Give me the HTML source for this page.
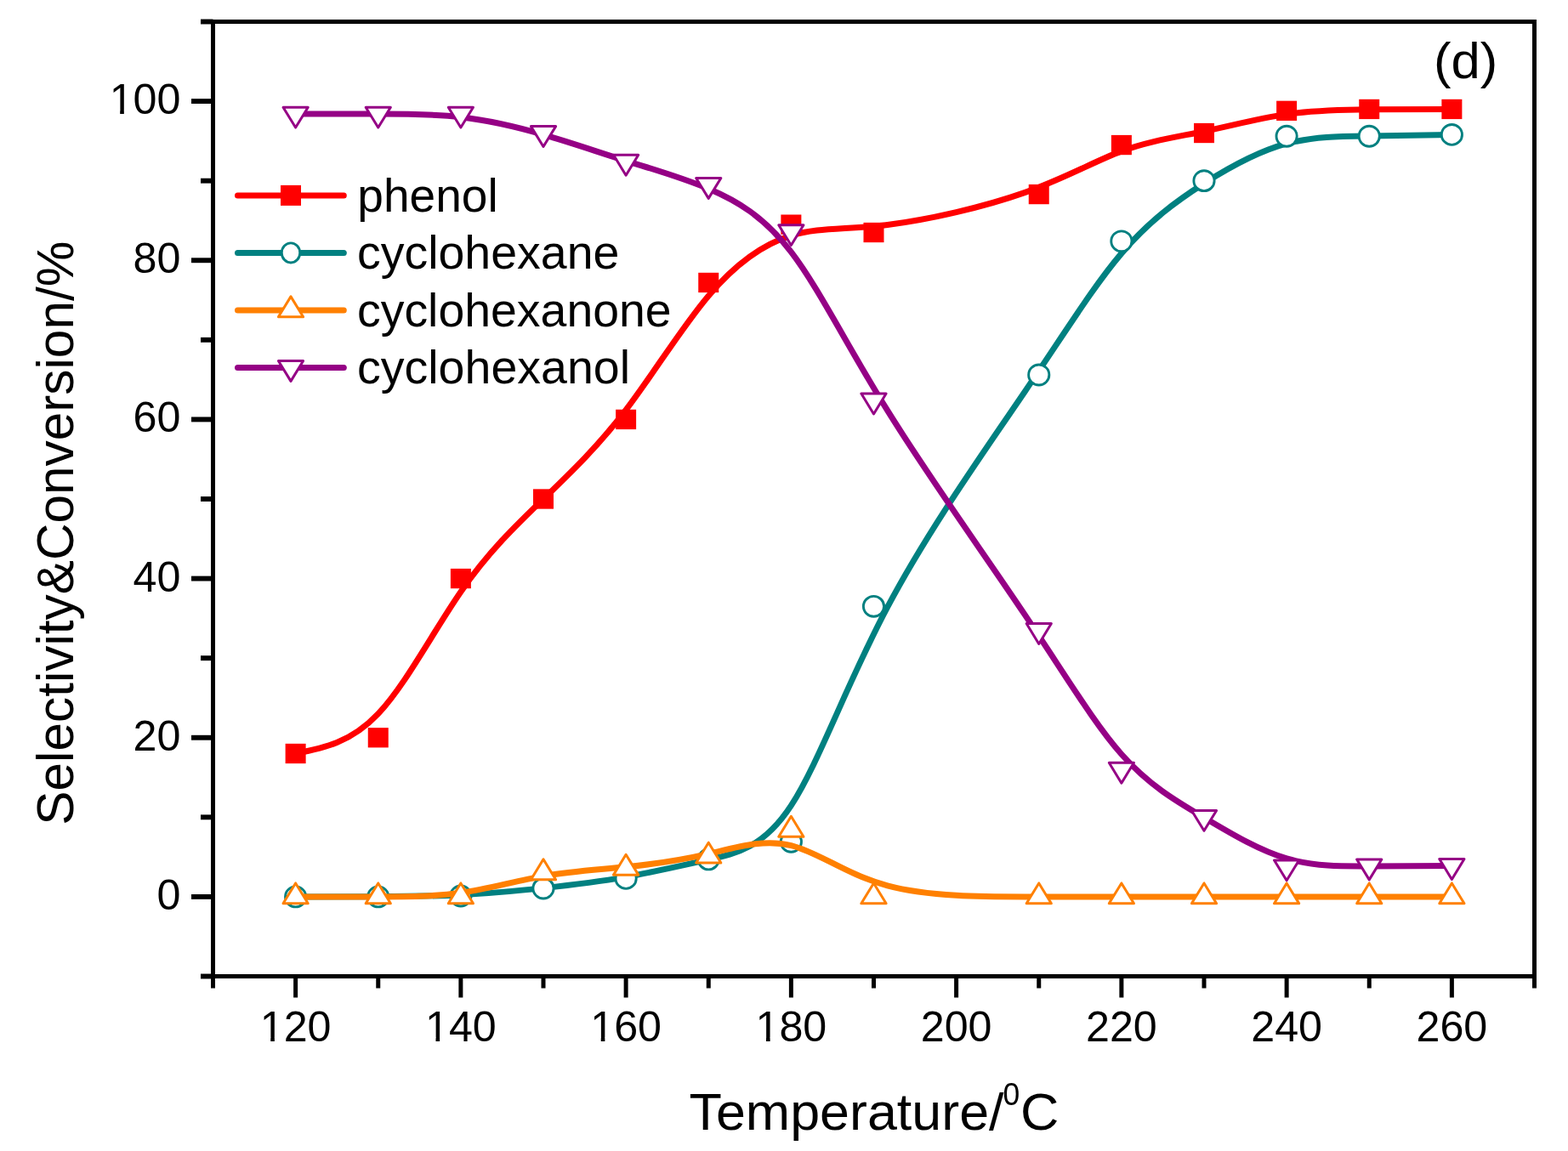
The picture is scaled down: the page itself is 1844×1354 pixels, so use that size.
<!DOCTYPE html><html><head><meta charset="utf-8"><title>Selectivity and Conversion vs Temperature</title>
<style>html,body{margin:0;padding:0;background:#fff}svg{display:block}text{font-family:"Liberation Sans",Arial,Helvetica,sans-serif;fill:#000}</style></head><body>
<svg width="1844" height="1354" viewBox="0 0 1844 1354">
<rect width="1844" height="1354" fill="#fff"/>
<g><path d="M347.62 886.47C380.00 880.23 412.38 873.99 444.75 839.68C477.12 805.36 509.50 742.97 541.88 696.18C574.25 649.39 606.62 618.19 639.00 587.00C671.38 555.81 703.75 524.61 736.12 482.19C768.50 439.76 800.88 386.11 833.25 347.89C865.62 309.68 898.00 286.91 930.38 277.08C962.75 267.26 995.12 270.38 1043.69 264.45C1092.25 258.52 1157.00 243.55 1205.56 226.39C1254.12 209.24 1286.50 189.89 1318.88 177.88C1351.25 165.88 1383.62 161.20 1416.00 154.49C1448.38 147.78 1480.75 139.05 1513.12 134.37C1545.50 129.69 1577.88 129.07 1610.25 128.75C1642.62 128.44 1675.00 128.44 1707.38 128.44" fill="none" stroke="#ff0000" stroke-width="7.0" stroke-linecap="round" stroke-linejoin="round"/><rect x="335.62" y="874.82" width="24.00" height="23.30" fill="#ff0000"/><rect x="432.75" y="856.10" width="24.00" height="23.30" fill="#ff0000"/><rect x="529.88" y="668.93" width="24.00" height="23.30" fill="#ff0000"/><rect x="627.00" y="575.35" width="24.00" height="23.30" fill="#ff0000"/><rect x="724.12" y="481.77" width="24.00" height="23.30" fill="#ff0000"/><rect x="821.25" y="320.80" width="24.00" height="23.30" fill="#ff0000"/><rect x="918.38" y="252.49" width="24.00" height="23.30" fill="#ff0000"/><rect x="1015.50" y="261.85" width="24.00" height="23.30" fill="#ff0000"/><rect x="1209.75" y="216.93" width="24.00" height="23.30" fill="#ff0000"/><rect x="1306.88" y="158.90" width="24.00" height="23.30" fill="#ff0000"/><rect x="1404.00" y="144.87" width="24.00" height="23.30" fill="#ff0000"/><rect x="1501.12" y="118.66" width="24.00" height="23.30" fill="#ff0000"/><rect x="1598.25" y="116.79" width="24.00" height="23.30" fill="#ff0000"/><rect x="1695.38" y="116.79" width="24.00" height="23.30" fill="#ff0000"/></g>
<g><path d="M347.62 1054.92C380.00 1054.92 412.38 1054.92 444.75 1054.76C477.12 1054.60 509.50 1054.29 541.88 1052.66C574.25 1051.02 606.62 1048.05 639.00 1044.62C671.38 1041.19 703.75 1037.29 736.12 1031.60C768.50 1025.91 800.88 1018.42 833.25 1011.24C865.62 1004.07 898.00 997.21 930.38 947.61C962.75 898.01 995.12 805.67 1043.69 714.12C1092.25 622.56 1157.00 531.79 1205.56 460.19C1254.12 388.60 1286.50 336.20 1318.88 298.14C1351.25 260.08 1383.62 236.37 1416.00 215.79C1448.38 195.20 1480.75 177.73 1513.12 168.99C1545.50 160.26 1577.88 160.26 1610.25 159.95C1642.62 159.64 1675.00 159.01 1707.38 158.39" fill="none" stroke="#008080" stroke-width="7.0" stroke-linecap="round" stroke-linejoin="round"/><ellipse cx="347.62" cy="1054.92" rx="12.10" ry="11.95" fill="#fff" stroke="#008080" stroke-width="2.9"/><ellipse cx="444.75" cy="1054.92" rx="12.10" ry="11.95" fill="#fff" stroke="#008080" stroke-width="2.9"/><ellipse cx="541.88" cy="1053.98" rx="12.10" ry="11.95" fill="#fff" stroke="#008080" stroke-width="2.9"/><ellipse cx="639.00" cy="1045.09" rx="12.10" ry="11.95" fill="#fff" stroke="#008080" stroke-width="2.9"/><ellipse cx="736.12" cy="1033.39" rx="12.10" ry="11.95" fill="#fff" stroke="#008080" stroke-width="2.9"/><ellipse cx="833.25" cy="1010.93" rx="12.10" ry="11.95" fill="#fff" stroke="#008080" stroke-width="2.9"/><ellipse cx="930.38" cy="990.34" rx="12.10" ry="11.95" fill="#fff" stroke="#008080" stroke-width="2.9"/><ellipse cx="1027.50" cy="713.34" rx="12.10" ry="11.95" fill="#fff" stroke="#008080" stroke-width="2.9"/><ellipse cx="1221.75" cy="441.01" rx="12.10" ry="11.95" fill="#fff" stroke="#008080" stroke-width="2.9"/><ellipse cx="1318.88" cy="283.79" rx="12.10" ry="11.95" fill="#fff" stroke="#008080" stroke-width="2.9"/><ellipse cx="1416.00" cy="212.67" rx="12.10" ry="11.95" fill="#fff" stroke="#008080" stroke-width="2.9"/><ellipse cx="1513.12" cy="160.26" rx="12.10" ry="11.95" fill="#fff" stroke="#008080" stroke-width="2.9"/><ellipse cx="1610.25" cy="160.26" rx="12.10" ry="11.95" fill="#fff" stroke="#008080" stroke-width="2.9"/><ellipse cx="1707.38" cy="158.39" rx="12.10" ry="11.95" fill="#fff" stroke="#008080" stroke-width="2.9"/></g>
<g><path d="M347.62 1054.92C380.00 1054.92 412.38 1054.92 444.75 1054.92C477.12 1054.92 509.50 1054.92 541.88 1050.24C574.25 1045.56 606.62 1036.20 639.00 1030.59C671.38 1024.97 703.75 1023.10 736.12 1019.82C768.50 1016.55 800.88 1011.87 833.25 1004.38C865.62 996.89 898.00 986.60 930.38 994.56C962.75 1002.51 995.12 1028.71 1043.69 1041.82C1092.25 1054.92 1157.00 1054.92 1205.56 1054.92C1254.12 1054.92 1286.50 1054.92 1318.88 1054.92C1351.25 1054.92 1383.62 1054.92 1416.00 1054.92C1448.38 1054.92 1480.75 1054.92 1513.12 1054.92C1545.50 1054.92 1577.88 1054.92 1610.25 1054.92C1642.62 1054.92 1675.00 1054.92 1707.38 1054.92" fill="none" stroke="#ff8000" stroke-width="7.0" stroke-linecap="round" stroke-linejoin="round"/><polygon points="347.62,1038.92 333.02,1062.82 362.23,1062.82" fill="#fff" stroke="#ff8000" stroke-width="3.00" stroke-linejoin="round"/><polygon points="444.75,1038.92 430.15,1062.82 459.35,1062.82" fill="#fff" stroke="#ff8000" stroke-width="3.00" stroke-linejoin="round"/><polygon points="541.88,1038.92 527.27,1062.82 556.48,1062.82" fill="#fff" stroke="#ff8000" stroke-width="3.00" stroke-linejoin="round"/><polygon points="639.00,1010.84 624.40,1034.74 653.60,1034.74" fill="#fff" stroke="#ff8000" stroke-width="3.00" stroke-linejoin="round"/><polygon points="736.12,1005.23 721.52,1029.13 750.73,1029.13" fill="#fff" stroke="#ff8000" stroke-width="3.00" stroke-linejoin="round"/><polygon points="833.25,991.19 818.65,1015.09 847.85,1015.09" fill="#fff" stroke="#ff8000" stroke-width="3.00" stroke-linejoin="round"/><polygon points="930.38,960.31 915.77,984.21 944.98,984.21" fill="#fff" stroke="#ff8000" stroke-width="3.00" stroke-linejoin="round"/><polygon points="1027.50,1038.92 1012.90,1062.82 1042.10,1062.82" fill="#fff" stroke="#ff8000" stroke-width="3.00" stroke-linejoin="round"/><polygon points="1221.75,1038.92 1207.15,1062.82 1236.35,1062.82" fill="#fff" stroke="#ff8000" stroke-width="3.00" stroke-linejoin="round"/><polygon points="1318.88,1038.92 1304.28,1062.82 1333.47,1062.82" fill="#fff" stroke="#ff8000" stroke-width="3.00" stroke-linejoin="round"/><polygon points="1416.00,1038.92 1401.40,1062.82 1430.60,1062.82" fill="#fff" stroke="#ff8000" stroke-width="3.00" stroke-linejoin="round"/><polygon points="1513.12,1038.92 1498.53,1062.82 1527.72,1062.82" fill="#fff" stroke="#ff8000" stroke-width="3.00" stroke-linejoin="round"/><polygon points="1610.25,1038.92 1595.65,1062.82 1624.85,1062.82" fill="#fff" stroke="#ff8000" stroke-width="3.00" stroke-linejoin="round"/><polygon points="1707.38,1038.92 1692.78,1062.82 1721.97,1062.82" fill="#fff" stroke="#ff8000" stroke-width="3.00" stroke-linejoin="round"/></g>
<g><path d="M347.62 134.06C380.00 134.06 412.38 134.06 444.75 134.06C477.12 134.06 509.50 134.06 541.88 137.80C574.25 141.54 606.62 149.03 639.00 158.39C671.38 167.75 703.75 178.98 736.12 189.11C768.50 199.25 800.88 208.30 833.25 222.02C865.62 235.75 898.00 254.16 930.38 296.42C962.75 338.69 995.12 404.82 1043.69 482.97C1092.25 561.11 1157.00 651.26 1205.56 723.63C1254.12 796.00 1286.50 850.59 1318.88 887.25C1351.25 923.90 1383.62 942.62 1416.00 961.72C1448.38 980.83 1480.75 1000.33 1513.12 1009.92C1545.50 1019.51 1577.88 1019.20 1610.25 1018.97C1642.62 1018.73 1675.00 1018.58 1707.38 1018.42" fill="none" stroke="#950085" stroke-width="7.0" stroke-linecap="round" stroke-linejoin="round"/><polygon points="347.62,150.06 333.02,126.16 362.23,126.16" fill="#fff" stroke="#950085" stroke-width="3.00" stroke-linejoin="round"/><polygon points="444.75,150.06 430.15,126.16 459.35,126.16" fill="#fff" stroke="#950085" stroke-width="3.00" stroke-linejoin="round"/><polygon points="541.88,150.06 527.27,126.16 556.48,126.16" fill="#fff" stroke="#950085" stroke-width="3.00" stroke-linejoin="round"/><polygon points="639.00,172.52 624.40,148.62 653.60,148.62" fill="#fff" stroke="#950085" stroke-width="3.00" stroke-linejoin="round"/><polygon points="736.12,206.21 721.52,182.31 750.73,182.31" fill="#fff" stroke="#950085" stroke-width="3.00" stroke-linejoin="round"/><polygon points="833.25,233.35 818.65,209.45 847.85,209.45" fill="#fff" stroke="#950085" stroke-width="3.00" stroke-linejoin="round"/><polygon points="930.38,288.56 915.77,264.66 944.98,264.66" fill="#fff" stroke="#950085" stroke-width="3.00" stroke-linejoin="round"/><polygon points="1027.50,486.96 1012.90,463.06 1042.10,463.06" fill="#fff" stroke="#950085" stroke-width="3.00" stroke-linejoin="round"/><polygon points="1221.75,757.41 1207.15,733.51 1236.35,733.51" fill="#fff" stroke="#950085" stroke-width="3.00" stroke-linejoin="round"/><polygon points="1318.88,921.18 1304.28,897.28 1333.47,897.28" fill="#fff" stroke="#950085" stroke-width="3.00" stroke-linejoin="round"/><polygon points="1416.00,977.33 1401.40,953.43 1430.60,953.43" fill="#fff" stroke="#950085" stroke-width="3.00" stroke-linejoin="round"/><polygon points="1513.12,1035.82 1498.53,1011.92 1527.72,1011.92" fill="#fff" stroke="#950085" stroke-width="3.00" stroke-linejoin="round"/><polygon points="1610.25,1034.89 1595.65,1010.99 1624.85,1010.99" fill="#fff" stroke="#950085" stroke-width="3.00" stroke-linejoin="round"/><polygon points="1707.38,1034.42 1692.78,1010.52 1721.97,1010.52" fill="#fff" stroke="#950085" stroke-width="3.00" stroke-linejoin="round"/></g>
<g stroke="#000" stroke-width="5.0" fill="none" stroke-linecap="butt"><rect x="250.50" y="25.50" width="1554.00" height="1123.00"/><line x1="236.00" y1="1148.50" x2="250.50" y2="1148.50" stroke-width="5.9"/><line x1="225.00" y1="1054.92" x2="250.50" y2="1054.92" stroke-width="5.9"/><line x1="236.00" y1="961.33" x2="250.50" y2="961.33" stroke-width="5.9"/><line x1="225.00" y1="867.75" x2="250.50" y2="867.75" stroke-width="5.9"/><line x1="236.00" y1="774.17" x2="250.50" y2="774.17" stroke-width="5.9"/><line x1="225.00" y1="680.58" x2="250.50" y2="680.58" stroke-width="5.9"/><line x1="236.00" y1="587.00" x2="250.50" y2="587.00" stroke-width="5.9"/><line x1="225.00" y1="493.42" x2="250.50" y2="493.42" stroke-width="5.9"/><line x1="236.00" y1="399.83" x2="250.50" y2="399.83" stroke-width="5.9"/><line x1="225.00" y1="306.25" x2="250.50" y2="306.25" stroke-width="5.9"/><line x1="236.00" y1="212.67" x2="250.50" y2="212.67" stroke-width="5.9"/><line x1="225.00" y1="119.08" x2="250.50" y2="119.08" stroke-width="5.9"/><line x1="236.00" y1="25.50" x2="250.50" y2="25.50" stroke-width="5.9"/><line x1="250.50" y1="1148.50" x2="250.50" y2="1162.50"/><line x1="347.62" y1="1148.50" x2="347.62" y2="1173.50"/><line x1="444.75" y1="1148.50" x2="444.75" y2="1162.50"/><line x1="541.88" y1="1148.50" x2="541.88" y2="1173.50"/><line x1="639.00" y1="1148.50" x2="639.00" y2="1162.50"/><line x1="736.12" y1="1148.50" x2="736.12" y2="1173.50"/><line x1="833.25" y1="1148.50" x2="833.25" y2="1162.50"/><line x1="930.38" y1="1148.50" x2="930.38" y2="1173.50"/><line x1="1027.50" y1="1148.50" x2="1027.50" y2="1162.50"/><line x1="1124.62" y1="1148.50" x2="1124.62" y2="1173.50"/><line x1="1221.75" y1="1148.50" x2="1221.75" y2="1162.50"/><line x1="1318.88" y1="1148.50" x2="1318.88" y2="1173.50"/><line x1="1416.00" y1="1148.50" x2="1416.00" y2="1162.50"/><line x1="1513.12" y1="1148.50" x2="1513.12" y2="1173.50"/><line x1="1610.25" y1="1148.50" x2="1610.25" y2="1162.50"/><line x1="1707.38" y1="1148.50" x2="1707.38" y2="1173.50"/><line x1="1804.50" y1="1148.50" x2="1804.50" y2="1162.50"/></g>
<defs><clipPath id="c1e"><rect x="-89.26" y="-50.50" width="94.26" height="46.13"/><rect x="-71.66" y="-5.37" width="4.66" height="7.37"/><rect x="-56.17" y="-5.37" width="61.17" height="7.37"/></clipPath><clipPath id="c1m"><rect x="-47.13" y="-50.50" width="94.26" height="46.13"/><rect x="-29.53" y="-5.37" width="4.66" height="7.37"/><rect x="-14.04" y="-5.37" width="61.17" height="7.37"/></clipPath></defs>
<text id="y0" transform="translate(212.50 1069.92) scale(0.9950 1.0000)" font-size="50.50" text-anchor="end">0</text>
<text id="y20" transform="translate(212.50 882.75) scale(0.9950 1.0000)" font-size="50.50" text-anchor="end">20</text>
<text id="y40" transform="translate(212.50 695.58) scale(0.9950 1.0000)" font-size="50.50" text-anchor="end">40</text>
<text id="y60" transform="translate(212.50 508.42) scale(0.9950 1.0000)" font-size="50.50" text-anchor="end">60</text>
<text id="y80" transform="translate(212.50 321.25) scale(0.9950 1.0000)" font-size="50.50" text-anchor="end">80</text>
<text clip-path="url(#c1e)" id="y100" transform="translate(212.50 134.08) scale(0.9950 1.0000)" font-size="50.50" text-anchor="end">100</text>
<text clip-path="url(#c1m)" id="x120" transform="translate(347.62 1224.90) scale(0.9950 1.0000)" font-size="50.50" text-anchor="middle">120</text>
<text clip-path="url(#c1m)" id="x140" transform="translate(541.88 1224.90) scale(0.9950 1.0000)" font-size="50.50" text-anchor="middle">140</text>
<text clip-path="url(#c1m)" id="x160" transform="translate(736.12 1224.90) scale(0.9950 1.0000)" font-size="50.50" text-anchor="middle">160</text>
<text clip-path="url(#c1m)" id="x180" transform="translate(930.38 1224.90) scale(0.9950 1.0000)" font-size="50.50" text-anchor="middle">180</text>
<text id="x200" transform="translate(1124.62 1224.90) scale(0.9950 1.0000)" font-size="50.50" text-anchor="middle">200</text>
<text id="x220" transform="translate(1318.88 1224.90) scale(0.9950 1.0000)" font-size="50.50" text-anchor="middle">220</text>
<text id="x240" transform="translate(1513.12 1224.90) scale(0.9950 1.0000)" font-size="50.50" text-anchor="middle">240</text>
<text id="x260" transform="translate(1707.38 1224.90) scale(0.9950 1.0000)" font-size="50.50" text-anchor="middle">260</text>
<g id="xt"><text id="xt1" transform="translate(810.50 1329.00) scale(1.0400 1.0000)" font-size="60.40" text-anchor="start">Temperature/</text><text id="xt2" transform="translate(1179.50 1299.80) scale(0.9750 1.0000)" font-size="36.40" text-anchor="start">0</text><text id="xt3" transform="translate(1200.00 1329.00) scale(1.0400 1.0000)" font-size="60.40" text-anchor="start">C</text></g>
<text id="yt" transform="translate(86.10 970.70) rotate(-90) scale(0.9984 1.0000)" font-size="60.40" text-anchor="start">Selectivity&amp;Conversion/%</text>
<text id="dl" transform="translate(1686.00 92.40) scale(1.0440 1.0000)" font-size="59.00" text-anchor="start">(d)</text>
<g><line x1="279.50" y1="229.90" x2="404.30" y2="229.90" stroke="#ff0000" stroke-width="7.0" stroke-linecap="round"/><rect x="330.00" y="217.90" width="24.00" height="24.00" fill="#ff0000"/></g>
<text id="lg0" transform="translate(420.30 248.90) scale(0.9980 1.0000)" font-size="55.20" text-anchor="start">phenol</text>
<g><line x1="279.50" y1="297.40" x2="404.30" y2="297.40" stroke="#008080" stroke-width="7.0" stroke-linecap="round"/><ellipse cx="342.00" cy="297.40" rx="10.75" ry="11.55" fill="#fff" stroke="#008080" stroke-width="2.9"/></g>
<text id="lg1" transform="translate(420.00 316.40) scale(1.0050 1.0000)" font-size="55.20" text-anchor="start">cyclohexane</text>
<g><line x1="279.50" y1="364.90" x2="404.30" y2="364.90" stroke="#ff8000" stroke-width="7.0" stroke-linecap="round"/><polygon points="342.00,348.90 327.40,372.80 356.60,372.80" fill="#fff" stroke="#ff8000" stroke-width="3.00" stroke-linejoin="round"/></g>
<text id="lg2" transform="translate(420.00 383.90) scale(1.0040 1.0000)" font-size="55.20" text-anchor="start">cyclohexanone</text>
<g><line x1="279.50" y1="432.40" x2="404.30" y2="432.40" stroke="#950085" stroke-width="7.0" stroke-linecap="round"/><polygon points="342.00,448.40 327.40,424.50 356.60,424.50" fill="#fff" stroke="#950085" stroke-width="3.00" stroke-linejoin="round"/></g>
<text id="lg3" transform="translate(420.00 451.40) scale(1.0060 1.0000)" font-size="55.20" text-anchor="start">cyclohexanol</text>
</svg></body></html>
